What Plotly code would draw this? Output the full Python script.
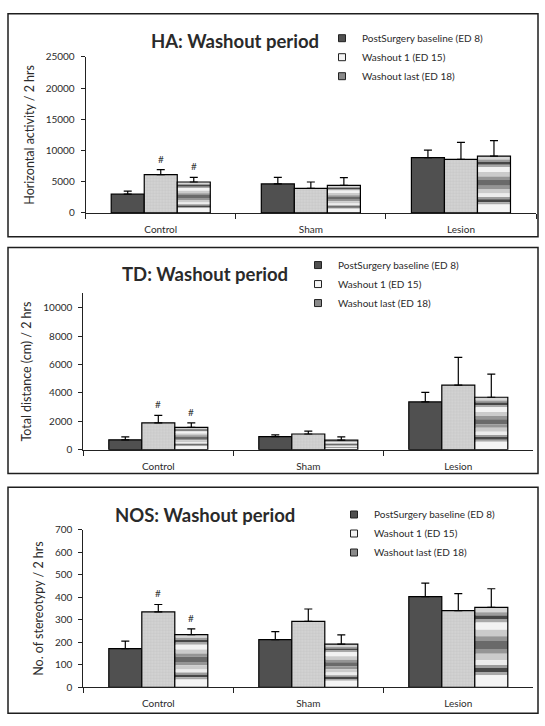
import plotly.graph_objects as go

# ---------------- data ----------------
categories = ["Control", "Sham", "Lesion"]
series_names = ["PostSurgery baseline (ED 8)", "Washout 1 (ED 15)", "Washout last (ED 18)"]

# HA: horizontal activity / 2 hrs
ha_baseline = [3000, 4650, 8850]
ha_baseline_err = [480, 1030, 1200]
ha_washout1 = [6150, 3920, 8570]
ha_washout1_err = [770, 1030, 2730]
ha_washout_last = [4950, 4420, 9100]
ha_washout_last_err = [760, 1220, 2480]
ha_sig = [("Control", 1), ("Control", 2)]

# TD: total distance (cm) / 2 hrs
td_baseline = [690, 920, 3360]
td_baseline_err = [210, 120, 670]
td_washout1 = [1890, 1100, 4540]
td_washout1_err = [530, 210, 1960]
td_washout_last = [1570, 670, 3690]
td_washout_last_err = [320, 230, 1630]
td_sig = [("Control", 1), ("Control", 2)]

# NOS: number of stereotypy / 2 hrs
nos_baseline = [172, 212, 403]
nos_baseline_err = [33, 35, 60]
nos_washout1 = [335, 293, 341]
nos_washout1_err = [33, 55, 75]
nos_washout_last = [234, 192, 355]
nos_washout_last_err = [26, 41, 83]
nos_sig = [("Control", 1), ("Control", 2)]

y_ticks_ha = [0, 5000, 10000, 15000, 20000, 25000]
y_ticks_td = [0, 2000, 4000, 6000, 8000, 10000]
y_ticks_nos = [0, 100, 200, 300, 400, 500, 600, 700]

# ---------------- style ----------------
W, H = 545, 726
FONT = "Lato, 'Open Sans', sans-serif"
TXT = "#2b2b2b"
BARGAP = 0.34
C_BASE = "#505050"
C_W1_BG = "#d2d2d2"
C_W1_FG = "#b4b4b4"
# horizontal 'cylinder' gradient of the last series, top (0) -> bottom (1)
grad_stops = [
    (0.00, 0.06, "#d6d6d6"), (0.06, 0.10, "#9c9c9c"), (0.10, 0.15, "#474747"),
    (0.15, 0.19, "#a8a8a8"), (0.19, 0.28, "#f2f2f2"), (0.28, 0.36, "#cbcbcb"),
    (0.36, 0.42, "#959595"), (0.42, 0.52, "#6a6a6a"), (0.52, 0.58, "#959595"),
    (0.58, 0.66, "#cbcbcb"), (0.66, 0.72, "#ececec"), (0.72, 0.76, "#9c9c9c"),
    (0.76, 0.81, "#474747"), (0.81, 0.85, "#a8a8a8"), (0.85, 1.00, "#f4f4f4"),
]


def fx(p):
    return p / W


def fy(p):
    return 1 - p / H


panels = [
    dict(title="HA: Washout period", ytitle="Horizontal activity / 2 hrs",
         series=[(ha_baseline, ha_baseline_err), (ha_washout1, ha_washout1_err),
                 (ha_washout_last, ha_washout_last_err)],
         ymax=25000, ticks=y_ticks_ha, sig=ha_sig,
         plot=(85.7, 536.0, 50.7, 209.7), box=(8, 7, 538, 234),
         title_xy=(235, 35), legend_xy=(322, 17)),
    dict(title="TD: Washout period", ytitle="Total distance (cm) / 2 hrs",
         series=[(td_baseline, td_baseline_err), (td_washout1, td_washout1_err),
                 (td_washout_last, td_washout_last_err)],
         ymax=11000, ticks=y_ticks_td, sig=td_sig,
         plot=(83.3, 533.3, 291.7, 450.7), box=(8, 245, 538, 475),
         title_xy=(205, 272), legend_xy=(298, 248)),
    dict(title="NOS: Washout period", ytitle="No. of stereotypy / 2 hrs",
         series=[(nos_baseline, nos_baseline_err), (nos_washout1, nos_washout1_err),
                 (nos_washout_last, nos_washout_last_err)],
         ymax=700, ticks=y_ticks_nos, sig=nos_sig,
         plot=(83.3, 533.3, 532.3, 692.7), box=(8, 489, 538, 719),
         title_xy=(205, 517), legend_xy=(334, 502)),
]

fig = go.Figure()
shapes = []
annotations = []
layout = {}

err_style = dict(type="data", symmetric=False, arrayminus=[0, 0, 0],
                 color="black", thickness=1.2, width=4)
outline = dict(color="black", width=1.2)

for i, p in enumerate(panels):
    n = "" if i == 0 else str(i + 1)
    xa, ya = "x" + n, "y" + n
    lg = "legend" + n
    (b_vals, b_err), (w1_vals, w1_err), (wl_vals, wl_err) = p["series"]

    # baseline
    fig.add_trace(go.Bar(x=categories, y=b_vals, offsetgroup="0", xaxis=xa, yaxis=ya,
                         marker=dict(color=C_BASE, line=outline),
                         error_y=dict(err_style, array=b_err), showlegend=False,
                         name=series_names[0]))
    # washout 1 (fine dotted light grey)
    fig.add_trace(go.Bar(x=categories, y=w1_vals, offsetgroup="1", xaxis=xa, yaxis=ya,
                         marker=dict(color=C_W1_BG, line=outline,
                                     pattern=dict(shape="+", size=3, solidity=0.25,
                                                  fgcolor=C_W1_FG, bgcolor=C_W1_BG)),
                         error_y=dict(err_style, array=w1_err), showlegend=False,
                         name=series_names[1]))
    # washout last: gradient bands built from the values
    for a, b, col in grad_stops:
        fig.add_trace(go.Bar(x=categories, y=[v * (b - a) for v in wl_vals],
                             base=[v * (1 - b) for v in wl_vals],
                             offsetgroup="2", xaxis=xa, yaxis=ya,
                             marker=dict(color=col, line=dict(width=0)),
                             showlegend=False, hoverinfo="skip"))
    fig.add_trace(go.Bar(x=categories, y=wl_vals, offsetgroup="2", xaxis=xa, yaxis=ya,
                         marker=dict(color="rgba(0,0,0,0)", line=outline),
                         error_y=dict(err_style, array=wl_err), showlegend=False,
                         name=series_names[2]))

    # legend entries
    leg_cols = [C_BASE, "#f4f4f4", "#8a8a8a"]
    for name, col in zip(series_names, leg_cols):
        fig.add_trace(go.Scatter(x=[None], y=[None], mode="markers", name=name,
                                 xaxis=xa, yaxis=ya, legend=lg,
                                 marker=dict(symbol="square", size=7, color=col,
                                             line=dict(color="#222", width=1))))

    x0, x1, y0, y1 = p["plot"]
    layout["xaxis" + n] = dict(
        domain=[fx(x0), fx(x1)], anchor=ya, type="category",
        showline=True, linecolor="#222", linewidth=1, ticks="outside",
        tickson="boundaries", ticklen=5, tickcolor="#222", showgrid=False,
        tickfont=dict(family=FONT, size=10, color=TXT), ticklabelstandoff=7,
        fixedrange=True)
    layout["yaxis" + n] = dict(
        domain=[fy(y1), fy(y0)], anchor=xa, range=[0, p["ymax"]],
        tickvals=p["ticks"], tickformat="d", showline=True, linecolor="#222", linewidth=1,
        ticks="outside", ticklen=4, tickcolor="#222", showgrid=False, zeroline=False,
        tickfont=dict(family=FONT, size=10, color=TXT), ticklabelstandoff=4,
        title=dict(text=p["ytitle"], font=dict(family=FONT, size=12.5, color=TXT),
                   standoff=8),
        fixedrange=True)
    lx, ly = p["legend_xy"]
    layout[lg] = dict(x=fx(lx), y=fy(ly), xanchor="left", yanchor="top",
                      xref="paper", yref="paper", bgcolor="rgba(0,0,0,0)",
                      font=dict(family=FONT, size=10, color=TXT),
                      itemwidth=30, tracegroupgap=0)

    bx0, by0, bx1, by1 = p["box"]
    shapes.append(dict(type="rect", xref="paper", yref="paper",
                       x0=fx(bx0), x1=fx(bx1), y0=fy(by1), y1=fy(by0),
                       line=dict(color="#1e1e1e", width=1.5), fillcolor="rgba(0,0,0,0)",
                       layer="above"))
    tx, ty = p["title_xy"]
    annotations.append(dict(text="<b>%s</b>" % p["title"], xref="paper", yref="paper",
                            x=fx(tx), y=fy(ty), xanchor="center", yanchor="middle",
                            showarrow=False,
                            font=dict(family=FONT, size=18.5, color="#2a2a2a")))
    # significance marks
    bar_px = (x1 - x0) / len(categories) * (1 - BARGAP) / 3
    for cat, s in p["sig"]:
        vals, errs = p["series"][s]
        k = categories.index(cat)
        annotations.append(dict(text="#", xref=xa, yref=ya, x=cat,
                                y=vals[k] + errs[k], xshift=(s - 1) * bar_px,
                                yanchor="bottom", yshift=3, showarrow=False,
                                font=dict(family=FONT, size=10, color="#333333")))

fig.update_layout(
    width=W, height=H, margin=dict(l=0, r=0, t=0, b=0),
    paper_bgcolor="white", plot_bgcolor="white",
    barmode="group", bargap=BARGAP, bargroupgap=0,
    shapes=shapes, annotations=annotations, **layout)

fig.write_html("out.html", config={"displayModeBar": False, "staticPlot": True},
               post_script="document.body.style.margin='0';document.body.style.overflow='hidden';")
